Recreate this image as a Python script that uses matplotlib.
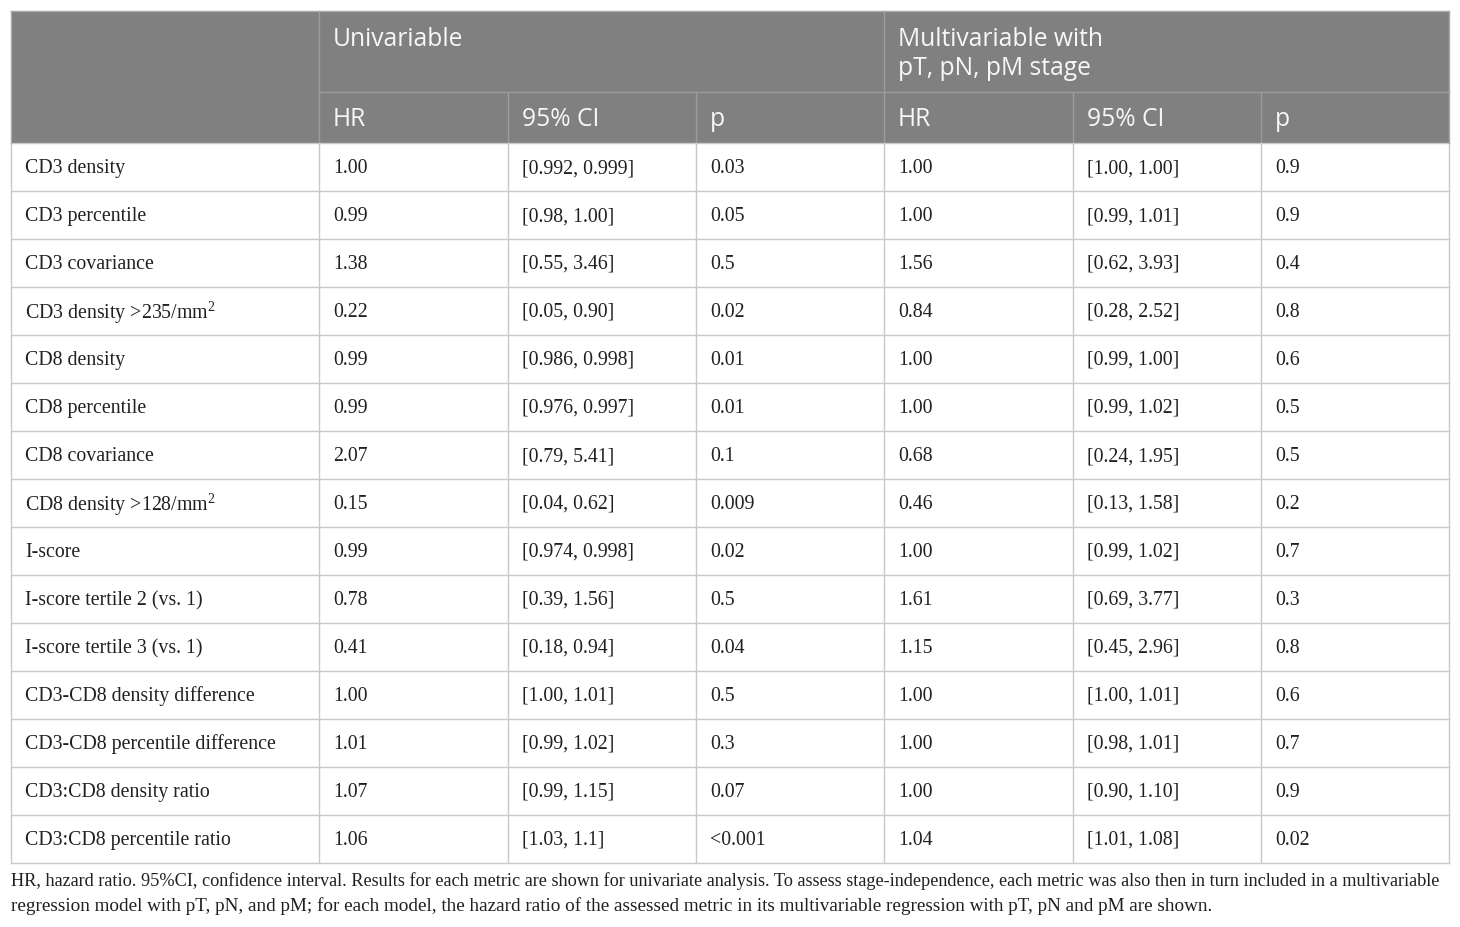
import matplotlib
matplotlib.use("Agg")
import matplotlib.pyplot as plt
from matplotlib.patches import Rectangle

plt.rcParams['mathtext.fontset'] = 'custom'
plt.rcParams['mathtext.rm'] = 'Liberation Serif'
plt.rcParams['mathtext.it'] = 'Liberation Serif'

# ---- data ----
group_headers = ["Univariable", "Multivariable with\npT, pN, pM stage"]
sub_headers = ["HR", "95% CI", "p", "HR", "95% CI", "p"]
metrics = [
    "CD3 density", "CD3 percentile", "CD3 covariance",
    r"CD3 density >235/mm$^{2}$", "CD8 density", "CD8 percentile",
    "CD8 covariance", r"CD8 density >128/mm$^{2}$", "I-score",
    "I-score tertile 2 (vs. 1)", "I-score tertile 3 (vs. 1)",
    "CD3-CD8 density difference", "CD3-CD8 percentile difference",
    "CD3:CD8 density ratio", "CD3:CD8 percentile ratio",
]
uni_hr = ["1.00", "0.99", "1.38", "0.22", "0.99", "0.99", "2.07", "0.15",
          "0.99", "0.78", "0.41", "1.00", "1.01", "1.07", "1.06"]
uni_ci = ["[0.992, 0.999]", "[0.98, 1.00]", "[0.55, 3.46]", "[0.05, 0.90]",
          "[0.986, 0.998]", "[0.976, 0.997]", "[0.79, 5.41]", "[0.04, 0.62]",
          "[0.974, 0.998]", "[0.39, 1.56]", "[0.18, 0.94]", "[1.00, 1.01]",
          "[0.99, 1.02]", "[0.99, 1.15]", "[1.03, 1.1]"]
uni_p = ["0.03", "0.05", "0.5", "0.02", "0.01", "0.01", "0.1", "0.009",
         "0.02", "0.5", "0.04", "0.5", "0.3", "0.07", "<0.001"]
multi_hr = ["1.00", "1.00", "1.56", "0.84", "1.00", "1.00", "0.68", "0.46",
            "1.00", "1.61", "1.15", "1.00", "1.00", "1.00", "1.04"]
multi_ci = ["[1.00, 1.00]", "[0.99, 1.01]", "[0.62, 3.93]", "[0.28, 2.52]",
            "[0.99, 1.00]", "[0.99, 1.02]", "[0.24, 1.95]", "[0.13, 1.58]",
            "[0.99, 1.02]", "[0.69, 3.77]", "[0.45, 2.96]", "[1.00, 1.01]",
            "[0.98, 1.01]", "[0.90, 1.10]", "[1.01, 1.08]"]
multi_p = ["0.9", "0.9", "0.4", "0.8", "0.6", "0.5", "0.5", "0.2",
           "0.7", "0.3", "0.8", "0.6", "0.7", "0.9", "0.02"]
footnote = [
    "HR, hazard ratio. 95%CI, confidence interval. Results for each metric are shown for univariate analysis. "
    "To assess stage-independence, each metric was also then in turn included in a multivariable",
    "regression model with pT, pN, and pM; for each model, the hazard ratio of the assessed metric in its "
    "multivariable regression with pT, pN and pM are shown.",
]

# ---- layout ----
W, H = 1460, 927
fig = plt.figure(figsize=(W / 100, H / 100), dpi=100)
ax = fig.add_axes([0, 0, 1, 1])
ax.set_xlim(0, W)
ax.set_ylim(H, 0)
ax.axis('off')

col_x = [11, 319, 508, 696, 884, 1073, 1261, 1449]
top, h1, h2 = 11, 92, 143
row_h = 48
n = len(metrics)
bottom = h2 + n * row_h

head_bg = '#7f807f'
head_line = '#9c9c9c'
grid = '#c8c8c8'
sans = 'Open Sans'
serif = 'Liberation Serif'
txt = '#231f20'

ax.add_patch(Rectangle((col_x[0], top), col_x[-1] - col_x[0], h2 - top,
                       facecolor=head_bg, edgecolor='none', zorder=1))
# header lines
ax.plot([col_x[1], col_x[-1]], [h1, h1], color=head_line, lw=1, zorder=2)
for xv in (col_x[1], col_x[4]):
    ax.plot([xv, xv], [top, h2], color=head_line, lw=1, zorder=2)
for xv in (col_x[2], col_x[3], col_x[5], col_x[6]):
    ax.plot([xv, xv], [h1, h2], color=head_line, lw=1, zorder=2)
ax.plot([col_x[0], col_x[-1]], [top, top], color='#a8a8a8', lw=1, zorder=2)

# header text
hfs = 17.7
ax.text(col_x[1] + 14, 39, group_headers[0], fontsize=hfs, family=sans,
        color='#f7f7f7', va='center', ha='left')
ax.text(col_x[4] + 14, 54, group_headers[1], fontsize=hfs, family=sans,
        color='#f7f7f7', va='center', ha='left', linespacing=1.2)
for j, s in enumerate(sub_headers):
    ax.text(col_x[j + 1] + 14, 119, s, fontsize=hfs, family=sans,
            color='#f7f7f7', va='center', ha='left')

# body grid
for i in range(n + 1):
    y = h2 + i * row_h
    ax.plot([col_x[0], col_x[-1]], [y, y], color=grid, lw=1, zorder=2)
for xv in col_x:
    ax.plot([xv, xv], [h2, bottom], color=grid, lw=1, zorder=2)
for xv in (col_x[0], col_x[-1]):
    ax.plot([xv, xv], [top, h2], color='#a8a8a8', lw=1, zorder=2)

columns = [metrics, uni_hr, uni_ci, uni_p, multi_hr, multi_ci, multi_p]
for j, col in enumerate(columns):
    for i, s in enumerate(col):
        yc = h2 + i * row_h + row_h / 2 + 1.5
        ax.text(col_x[j] + 14, yc, s, fontsize=14.3, family=serif,
                color=txt, va='center', ha='left')

ax.text(col_x[0], 881, footnote[0], fontsize=13.15, family=serif,
        color=txt, va='center', ha='left')
ax.text(col_x[0], 906, footnote[1], fontsize=13.8, family=serif,
        color=txt, va='center', ha='left')

fig.savefig('out.png', dpi=100, facecolor='white')
